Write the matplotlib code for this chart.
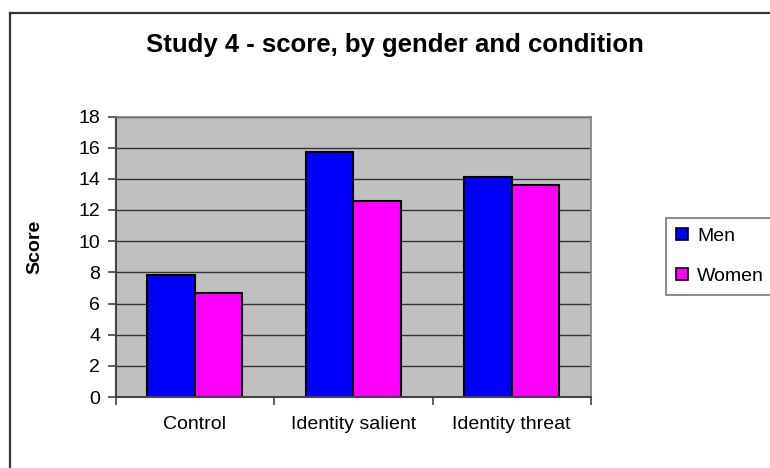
import matplotlib
matplotlib.use("Agg")
import matplotlib.pyplot as plt
from matplotlib.lines import Line2D
from matplotlib.patches import Rectangle
import numpy as np

plt.rcParams['font.family'] = ['Liberation Sans', 'DejaVu Sans']

conditions = ["Control", "Identity salient", "Identity threat"]
men_scores = [7.84, 15.69, 14.12]
women_scores = [6.69, 12.6, 13.6]
y_ticks = [0, 2, 4, 6, 8, 10, 12, 14, 16, 18]
series_names = ["Men", "Women"]
series_colors = ["#0000FF", "#FF00FF"]

W, H = 770, 468
fig = plt.figure(figsize=(W / 100, H / 100), dpi=100)
fig.patch.set_facecolor("white")

# outer chart-area border (left and top edges visible)
fig.add_artist(Line2D([10 / W, 10 / W], [0, 1 - 12.5 / H], transform=fig.transFigure,
                      color="#333333", lw=1.6))
fig.add_artist(Line2D([10 / W, 1], [1 - 12.5 / H, 1 - 12.5 / H], transform=fig.transFigure,
                      color="#333333", lw=1.6))

left, right, top, bottom = 115.5, 591, 116.5, 397
ax = fig.add_axes([left / W, 1 - bottom / H, (right - left) / W, (bottom - top) / H])
ax.set_facecolor("#C0C0C0")

x = np.arange(len(conditions))
bw = 0.3
ax.bar(x - bw / 2, men_scores, bw, color=series_colors[0], edgecolor="black", linewidth=1.5, zorder=3)
ax.bar(x + bw / 2, women_scores, bw, color=series_colors[1], edgecolor="black", linewidth=1.5, zorder=3)

ax.set_xlim(-0.5, len(conditions) - 0.5)
ax.set_ylim(0, 18)
ax.set_yticks(y_ticks)
ax.set_yticklabels([str(t) for t in y_ticks], fontsize=14)
for t in y_ticks[1:]:
    ax.axhline(t, color="#333333", lw=1.0, zorder=1)

ax.set_xticks(np.arange(len(conditions) + 1) - 0.5)
ax.set_xticklabels([])
ax.set_xticks(x, minor=True)
ax.set_xticklabels(conditions, minor=True, fontsize=14)
ax.tick_params(axis="x", which="minor", length=0, pad=14)
ax.tick_params(axis="x", which="major", length=6, width=1.2, color="#444444", direction="out")
ax.tick_params(axis="y", length=6, width=1.2, color="#444444", direction="out", pad=5)

for s in ["top", "right"]:
    ax.spines[s].set_color("#808080")
    ax.spines[s].set_linewidth(1.2)
for s in ["left", "bottom"]:
    ax.spines[s].set_color("#444444")
    ax.spines[s].set_linewidth(1.5)
ax.spines["bottom"].set_zorder(4)

fig.text(35 / W, 1 - 247 / H, "Score", rotation=90, ha="center", va="center",
         fontsize=14, fontweight="bold")

fig.text(395 / W, 1 - 45 / H, "Study 4 - score, by gender and condition",
         ha="center", va="center", fontsize=18.5, fontweight="bold")

handles = [Rectangle((0, 0), 1, 1, facecolor=c, edgecolor="black", lw=1.2) for c in series_colors]
leg = fig.legend(handles, series_names, loc="upper left",
                 bbox_to_anchor=(666 / W, 1 - 218 / H), bbox_transform=fig.transFigure,
                 fontsize=14, frameon=True, fancybox=False, edgecolor="#555555",
                 handlelength=0.65, handleheight=0.55, handletextpad=0.45,
                 labelspacing=1.2, borderpad=0.5, borderaxespad=0)
leg.get_frame().set_linewidth(1.2)

fig.savefig("out.png", dpi=100)
